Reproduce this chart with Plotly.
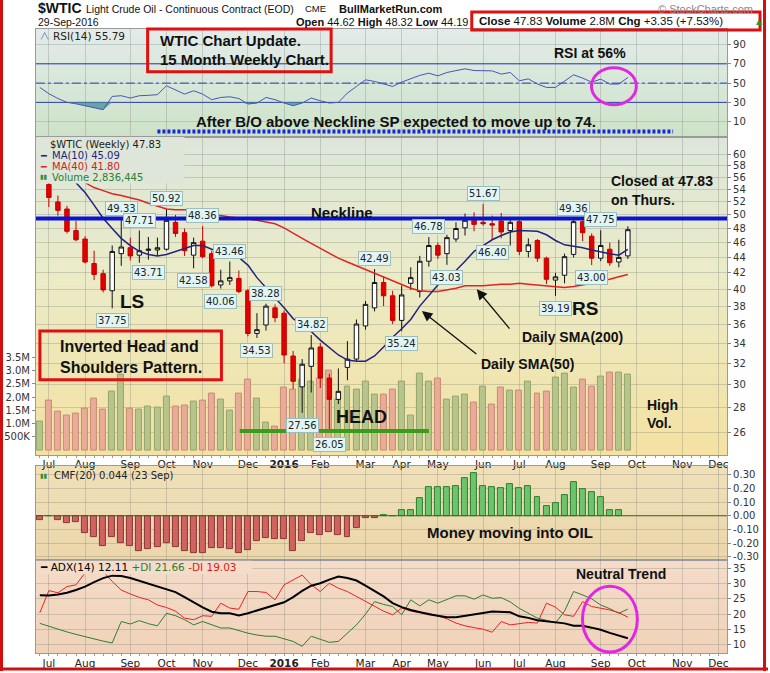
import math
import pandas as pd
import plotly.graph_objects as go

W, H = 770, 673

# ---------------- data (weekly bars, dated by Monday of the week) ----------------
FIRST_WEEK = "2015-06-29"
weeks = [d.strftime("%Y-%m-%d") for d in pd.date_range(FIRST_WEEK, periods=66, freq="7D")]

opens = [59.5, 54.8, 52.0, 50.9, 47.7, 46.5, 43.2, 41.9, 39.8, 44.5, 45.3, 44.3, 44.95, 45.0, 45.1,
         48.9, 47.4, 44.3, 46.2, 44.5, 40.5, 41.0, 41.3, 39.8, 35.0, 35.9, 37.8, 37.2, 32.7, 29.8,
         31.7, 33.6, 30.6, 28.7, 31.6, 32.4, 35.8, 37.8, 40.8, 39.2, 36.4, 40.7, 39.7, 43.5, 45.6,
         44.5, 46.5, 48.1, 49.4, 48.9, 48.7, 49.1, 47.7, 49.0, 44.8, 46.3, 43.9, 41.1, 41.7, 44.4,
         49.0, 46.9, 43.9, 45.1, 43.4, 44.2]
highs = [59.8, 55.2, 53.0, 51.4, 49.1, 46.9, 44.9, 42.4, 45.6, 49.33, 46.7, 47.71, 46.8, 46.7, 50.92,
         50.0, 48.0, 46.7, 48.36, 44.9, 42.4, 43.46, 42.3, 40.0, 37.2, 38.28, 38.2, 37.5, 33.2, 32.4,
         34.82, 34.0, 31.0, 31.5, 34.2, 36.5, 38.6, 42.49, 41.6, 39.8, 40.4, 42.7, 44.2, 46.78, 46.0,
         47.1, 48.9, 50.2, 50.4, 51.67, 49.9, 50.3, 49.6, 49.3, 46.6, 46.5, 44.1, 42.0, 44.5, 49.36,
         49.2, 47.3, 47.75, 46.0, 46.4, 48.32]
lows = [56.4, 51.2, 49.9, 47.3, 46.2, 43.2, 41.1, 39.6, 37.75, 42.9, 43.6, 43.3, 43.71, 44.2, 44.9,
        46.8, 44.2, 42.58, 43.9, 40.2, 40.06, 40.5, 39.5, 34.7, 34.53, 35.3, 36.2, 32.0, 29.6, 27.56,
        29.3, 29.7, 26.05, 28.3, 30.4, 32.2, 35.4, 37.4, 38.0, 36.0, 35.24, 39.9, 39.0, 42.8, 43.8,
        43.03, 46.1, 47.0, 47.6, 48.4, 46.40, 46.6, 45.6, 44.3, 44.0, 43.4, 40.6, 39.19, 40.7, 44.0,
        46.2, 43.00, 43.5, 42.9, 42.7, 43.8]
closes = [56.9, 52.7, 50.7, 47.6, 46.4, 43.4, 41.8, 39.9, 44.8, 45.4, 44.2, 44.9, 45.1, 45.3, 49.2,
          47.3, 44.9, 46.0, 44.1, 40.4, 41.0, 41.4, 39.7, 35.0, 35.4, 38.0, 36.7, 32.8, 30.3, 31.9,
          33.5, 30.6, 28.7, 29.4, 32.4, 36.0, 38.2, 40.8, 39.2, 36.4, 39.3, 41.4, 43.5, 45.6, 44.3,
          46.7, 48.0, 49.2, 48.6, 48.7, 48.5, 47.5, 48.9, 44.8, 45.7, 43.9, 41.2, 41.5, 44.1, 49.0,
          47.4, 43.9, 45.6, 43.3, 44.0, 47.83]
volume_m = [1.08, 1.88, 1.45, 1.32, 1.39, 1.58, 1.95, 1.54, 2.21, 2.85, 1.58, 1.54, 1.64, 1.60, 2.02,
            1.64, 1.69, 1.83, 1.88, 2.13, 1.92, 1.50, 2.13, 2.67, 1.95, 1.05, 0.90, 2.35, 2.30, 2.65,
            2.60, 2.70, 3.00, 1.90, 2.40, 2.30, 2.60, 2.10, 2.10, 2.30, 2.60, 1.30, 2.90, 2.60, 2.70,
            1.90, 2.00, 2.10, 1.80, 2.40, 1.70, 2.36, 2.26, 2.26, 2.58, 2.14, 2.20, 2.73, 2.89, 2.36,
            2.67, 2.39, 2.77, 2.92, 2.92, 2.84]
ma10 = [None, None, None, None, 55.1, 53.5, 51.5, 49.5, 48.0, 46.6, 45.6, 44.8, 44.4, 44.2, 44.4,
        44.8, 45.3, 45.6, 45.6, 45.1, 44.8, 44.5, 44.0, 43.0, 41.4, 40.2, 39.0, 37.8, 36.6, 35.9,
        35.2, 34.3, 33.5, 32.8, 32.3, 32.2, 32.2, 32.7, 33.6, 34.6, 35.5, 36.5, 38.0, 39.3, 40.5,
        41.5, 42.3, 43.5, 44.8, 45.6, 46.4, 47.0, 47.5, 47.7, 47.7, 47.6, 47.1, 46.3, 45.7, 45.5,
        45.3, 45.0, 44.7, 44.5, 44.3, 45.09]
ma40 = [None, None, None, None, None, 55.1, 54.3, 53.8, 53.3, 53.0, 52.7, 52.3, 51.8, 51.3, 50.9,
        50.8, 50.8, 50.8, 50.4, 50.1, 49.9, 49.7, 49.6, 49.4, 49.2, 48.9, 48.7, 48.1, 47.3, 46.6,
        45.9, 45.2, 44.5, 43.9, 43.4, 42.9, 42.5, 42.0, 41.5, 41.0, 40.5, 40.1, 39.8, 39.7, 39.7,
        39.9, 40.1, 40.4, 40.4, 40.4, 40.5, 40.6, 40.6, 40.7, 40.6, 40.5, 40.4, 40.3, 40.2, 40.3,
        40.5, 40.7, 41.0, 41.2, 41.5, 41.8]
rsi = [45.5, 39, 34, 30, 28.5, 26.5, 25, 22.4, 36.2, 36.9, 34.5, 36.9, 37.3, 38, 47.2,
       43, 38.6, 42, 38.6, 32.8, 35.1, 35.8, 34, 28.3, 29.3, 35.1, 32.8, 29.3, 26.5, 29.3,
       34.5, 31.7, 29.3, 30, 39.7, 46.5, 53.4, 51.7, 49, 46.5, 51, 54.5, 58, 60.3, 57.5,
       61, 63, 64.8, 63, 62.7, 62.7, 59.3, 61, 52.4, 54.4, 49, 45.5, 45.5, 52, 58.6,
       55.2, 51, 54.1, 49, 49, 55.79]
cmf = [-0.032, 0.0, -0.032, -0.051, -0.044, -0.124, -0.153, -0.219, -0.153, -0.202, -0.219, -0.256,
       -0.243, -0.226, -0.197, -0.226, -0.256, -0.275, -0.270, -0.239, -0.239, -0.246, -0.270, -0.251,
       -0.185, -0.161, -0.171, -0.173, -0.256, -0.182, -0.124, -0.139, -0.117, -0.141, -0.153, -0.090,
       -0.015, -0.020, 0.005, 0.0, 0.041, 0.041, 0.126, 0.212, 0.212, 0.212, 0.219, 0.277, 0.314,
       0.219, 0.212, 0.204, 0.233, 0.199, 0.219, 0.139, 0.073, 0.095, 0.153, 0.248, 0.192, 0.175,
       0.134, 0.041, 0.044, None]
adx = [26.2, 26.1, 26.4, 27.0, 27.9, 29.0, 30.5, 31.8, 32.6, 32.5, 31.8, 30.9, 29.9, 29.0, 28.3,
       27.2, 25.6, 23.8, 22.2, 20.8, 20.3, 20.3, 19.6, 20.3, 21.2, 22.2, 23.0, 23.9, 25.6, 27.6,
       29.3, 30.1, 31.3, 32.3, 31.8, 31.0, 29.3, 27.6, 25.8, 23.6, 22.3, 21.4, 20.6, 20.0, 19.5,
       19.0, 19.0, 19.4, 19.8, 20.4, 20.9, 20.8, 20.6, 19.3, 18.8, 18.0, 17.6, 17.4, 17.0, 16.2,
       16.2, 15.6, 14.9, 13.9, 13.0, 12.11]
pdi = [17.0, 16.0, 15.0, 14.2, 13.4, 12.6, 12.0, 11.2, 10.6, 17.6, 16.8, 17.9, 16.9, 16.2, 20.3,
       19.5, 18.2, 16.5, 17.6, 16.5, 15.5, 15.5, 14.6, 13.8, 13.2, 12.8, 12.8, 12.0, 11.1, 9.5,
       12.8, 11.8, 10.8, 11.1, 13.8, 16.5, 20.0, 24.1, 23.2, 22.5, 19.8, 24.7, 22.7, 24.7, 23.6,
       24.8, 26.0, 26.0, 24.9, 26.3, 25.2, 25.4, 24.0, 21.9, 20.3, 18.7, 18.0, 17.1, 21.0, 27.4,
       26.3, 25.0, 23.0, 21.8, 20.3, 21.66]
mdi = [20.5, 27.7, 27.0, 29.0, 29.6, 33.5, 35.5, 34.0, 30.7, 27.9, 26.6, 25.5, 24.7, 23.0, 22.2,
       21.0, 18.7, 18.2, 19.5, 19.3, 23.6, 22.0, 21.6, 27.4, 27.4, 27.1, 24.7, 29.6, 31.2, 32.8,
       29.6, 27.4, 30.1, 28.5, 27.4, 25.8, 24.2, 22.5, 21.0, 19.8, 22.0, 21.0, 20.5, 20.3, 19.3,
       18.5, 17.1, 16.2, 15.6, 15.1, 14.1, 17.6, 16.5, 17.0, 17.3, 17.1, 23.6, 22.3, 19.8, 19.3,
       24.1, 22.5, 22.0, 21.4, 20.5, 19.03]

NECKLINE = 49.45
HEAD_LEVEL = 26.1
# swing labels: (week position, "H" uses high / "L" uses low)
swing_labels = [(9, "H"), (11, "H"), (14, "H"), (18, "H"), (12, "L"), (17, "L"), (21, "H"), (20, "L"),
                (8, "L"), (25, "H"), (24, "L"), (30, "H"), (29, "L"), (32, "L"), (40, "L"), (37, "H"),
                (43, "H"), (45, "L"), (49, "H"), (50, "L"), (59, "H"), (62, "H"), (61, "L"), (57, "L")]

# ---------------- layout helpers ----------------
pos = list(range(len(weeks)))
XR = [-0.433, 75.97]
axis_weeks = pd.date_range(FIRST_WEEK, "2016-12-31", freq="7D")
tickvals, ticktext = [], []
for i, d in enumerate(axis_weeks):
    if i > 0 and d.month != axis_weeks[i - 1].month:
        tickvals.append(i)
        ticktext.append("<b>%d</b>" % d.year if d.month == 1 else d.strftime("%b"))


def py(p):
    return 1 - p / H


def px(p):
    return p / W


X0, X1 = px(36), px(729)
RSI_D = [py(137), py(29)]
MAIN_D = [py(456), py(137)]
CMF_D = [py(561.5), py(467.5)]
ADX_D = [py(655), py(562)]

GRID = "rgba(110,120,110,0.28)"
BORDER = "#9a9a9a"
TICKFONT = dict(family="DejaVu Sans", size=10, color="#333")
BOLD = "Liberation Sans, Arial, sans-serif"
HEAD = "Liberation Sans, Arial, sans-serif"

shapes, anns = [], []


def hexrgb(h):
    h = h.lstrip("#")
    return [int(h[i:i + 2], 16) for i in (0, 2, 4)]


def gradient(y0, y1, stops, n=28):
    for i in range(n):
        t = (i + 0.5) / n
        for j in range(len(stops) - 1):
            if stops[j][0] <= t <= stops[j + 1][0]:
                a, b = stops[j], stops[j + 1]
                u = (t - a[0]) / (b[0] - a[0])
                ca, cb = hexrgb(a[1]), hexrgb(b[1])
                c = [round(ca[k] + (cb[k] - ca[k]) * u) for k in range(3)]
                break
        ya = y0 + (y1 - y0) * i / n
        yb = y0 + (y1 - y0) * (i + 1) / n + 0.6
        shapes.append(dict(type="rect", xref="paper", yref="paper", x0=X0, x1=X1, y0=py(ya), y1=py(yb),
                           fillcolor="rgb(%d,%d,%d)" % tuple(c), line=dict(width=0), layer="below"))


gradient(29, 137, [(0, "#e3ebe9"), (1, "#cde3c8")])
gradient(137, 456, [(0, "#dce6da"), (0.45, "#ebebc6"), (1, "#f4e1a2")])
gradient(467.5, 561.5, [(0, "#f0e0b8"), (1, "#ebd6aa")])
gradient(562, 655, [(0, "#f4dcc8"), (1, "#f0d2b9")])


def text(t, x, y, size=14, color="#111", family=BOLD, xanchor="left", yanchor="middle", bold=True, **kw):
    anns.append(dict(text=("<b>%s</b>" % t) if bold else t, x=px(x), y=py(y), xref="paper", yref="paper",
                     showarrow=False, xanchor=xanchor, yanchor=yanchor,
                     font=dict(family=family, size=size, color=color), **kw))


def rect(x0, y0, x1, y1, color, width=3, fill=None, layer="above"):
    shapes.append(dict(type="rect", xref="paper", yref="paper", x0=px(x0), x1=px(x1), y0=py(y1), y1=py(y0),
                       line=dict(color=color, width=width), fillcolor=fill, layer=layer))


# ---------------- traces ----------------
fig = go.Figure()

# RSI panel
for lvl, dash in ((70, "solid"), (30, "solid"), (50, "dashdot")):
    fig.add_trace(go.Scatter(x=XR, y=[lvl, lvl], mode="lines", line=dict(color="#2c3fb0", width=1, dash=dash),
                             xaxis="x", yaxis="y", hoverinfo="skip"))
fig.add_trace(go.Scatter(x=pos, y=[30] * len(pos), mode="lines", line=dict(width=0), xaxis="x", yaxis="y",
                         hoverinfo="skip"))
fig.add_trace(go.Scatter(x=pos, y=[min(v, 30) for v in rsi], mode="lines", line=dict(width=0), fill="tonexty",
                         fillcolor="rgba(70,140,150,0.75)", xaxis="x", yaxis="y", hoverinfo="skip"))
fig.add_trace(go.Scatter(x=pos, y=rsi, mode="lines", line=dict(color="#4556b8", width=1), xaxis="x", yaxis="y"))
fig.add_trace(go.Scatter(x=[13.0, 70.0], y=[-0.3, -0.3], mode="lines",
                         line=dict(color="#1626d8", width=4, dash="3px,2px"), xaxis="x", yaxis="y"))

# volume (base axis of main panel)
vol_up = [i == 0 or closes[i] >= closes[i - 1] for i in pos]
fig.add_trace(go.Bar(x=pos, y=[v * 1e6 for v in volume_m], width=0.66,
                     marker=dict(color=["#b7c58c" if u else "#e8ac98" for u in vol_up],
                                 line=dict(color=["#94a46c" if u else "#c98a76" for u in vol_up], width=1)),
                     xaxis="x2", yaxis="y2"))

# price (overlaying log axis)
fig.add_trace(go.Candlestick(x=pos, open=opens, high=highs, low=lows, close=closes, whiskerwidth=0,
                             increasing=dict(line=dict(color="#111111", width=1), fillcolor="#ffffff"),
                             decreasing=dict(line=dict(color="#c40000", width=1), fillcolor="#e20000"),
                             xaxis="x2", yaxis="y3"))
fig.add_trace(go.Scatter(x=pos, y=ma40, mode="lines", line=dict(color="#e02424", width=1.5), xaxis="x2", yaxis="y3"))
fig.add_trace(go.Scatter(x=pos, y=ma10, mode="lines", line=dict(color="#23237e", width=1.5), xaxis="x2", yaxis="y3"))
fig.add_trace(go.Scatter(x=XR, y=[NECKLINE, NECKLINE], mode="lines", line=dict(color="#0a14d0", width=4),
                         xaxis="x2", yaxis="y3"))
fig.add_trace(go.Scatter(x=[22.1, 43.0], y=[HEAD_LEVEL, HEAD_LEVEL], mode="lines",
                         line=dict(color="#3c9a1c", width=4), xaxis="x2", yaxis="y3"))

# CMF
fig.add_trace(go.Bar(x=pos, y=cmf, width=0.66,
                     marker=dict(color=["#6cc46c" if (v or 0) >= 0 else "#d06262" for v in cmf],
                                 line=dict(color=["#2f7d2f" if (v or 0) >= 0 else "#8a3434" for v in cmf], width=1)),
                     xaxis="x3", yaxis="y4"))
fig.add_trace(go.Scatter(x=XR, y=[0, 0], mode="lines", line=dict(color="#2f6b2f", width=1.2), xaxis="x3", yaxis="y4"))

# ADX
fig.add_trace(go.Scatter(x=pos, y=pdi, mode="lines", line=dict(color="#2e7d32", width=1), xaxis="x4", yaxis="y5"))
fig.add_trace(go.Scatter(x=pos, y=mdi, mode="lines", line=dict(color="#f02020", width=1), xaxis="x4", yaxis="y5"))
fig.add_trace(go.Scatter(x=pos, y=adx, mode="lines", line=dict(color="#000000", width=2), xaxis="x4", yaxis="y5"))


# ---------------- axes ----------------
def xax(domain_anchor, labels):
    d = dict(domain=[X0, X1], range=XR, anchor=domain_anchor, tickvals=tickvals, ticktext=ticktext,
             showticklabels=labels, showgrid=True, gridcolor=GRID, gridwidth=1, zeroline=False,
             showline=True, linecolor=BORDER, mirror=True, ticks="",
             tickfont=dict(family="DejaVu Sans", size=10.5, color="#222"),
             rangeslider=dict(visible=False), fixedrange=True)
    if labels:
        d["minor"] = dict(tickvals=list(range(0, 77)), ticks="outside", ticklen=2, tickcolor="#999", showgrid=False)
    return d


def yax(domain, rng, vals, txt, **kw):
    d = dict(domain=domain, range=rng, tickvals=vals, ticktext=txt, side="right", showgrid=True, gridcolor=GRID,
             zeroline=False, showline=True, linecolor=BORDER, mirror=True, ticks="outside", ticklen=3,
             tickcolor="#888", tickfont=TICKFONT, fixedrange=True)
    d.update(kw)
    return d


price_ticks = list(range(26, 61, 2))
cmf_ticks = [-0.3, -0.2, -0.1, 0.0, 0.1, 0.2, 0.3]
vol_ticks = [0.5e6, 1e6, 1.5e6, 2e6, 2.5e6, 3e6, 3.5e6]

fig.update_layout(
    width=W, height=H, margin=dict(l=0, r=0, t=0, b=0),
    paper_bgcolor="white", plot_bgcolor="rgba(0,0,0,0)", showlegend=False, bargap=0,
    xaxis=xax("y", False),
    xaxis2=xax("y2", True),
    xaxis3=xax("y4", False),
    xaxis4=xax("y5", True),
    yaxis=yax(RSI_D, [-5.5, 106.2], [10, 30, 50, 70, 90], ["10", "30", "50", "70", "90"], anchor="x"),
    yaxis2=dict(domain=MAIN_D, range=[-0.17e6, 11.82e6], anchor="x2", side="left", tickvals=vol_ticks,
                ticktext=["500K", "1.0M", "1.5M", "2.0M", "2.5M", "3.0M", "3.5M"], showgrid=False,
                zeroline=False, showline=True, linecolor=BORDER, mirror=True, ticks="outside", ticklen=3,
                tickcolor="#888", tickfont=TICKFONT, fixedrange=True),
    yaxis3=yax(MAIN_D, [math.log10(24.3), math.log10(63.3)], price_ticks, [str(v) for v in price_ticks],
               type="log", overlaying="y2", anchor="x2"),
    yaxis4=yax(CMF_D, [-0.3226, 0.3635], cmf_ticks, ["%.2f" % v for v in cmf_ticks], anchor="x3"),
    yaxis5=yax(ADX_D, [7.3, 37.6], [10, 15, 20, 25, 30, 35], ["10", "15", "20", "25", "30", "35"], anchor="x4"),
)

# ---------------- legend boxes inside panels ----------------
rect(36.5, 137.5, 185, 184, "rgba(0,0,0,0)", width=0, fill="#dde6d9")
rect(36.5, 562.5, 253, 576, "rgba(0,0,0,0)", width=0, fill="#f4dcc8")

text("╱╲", 38.5, 36.5, size=6, family="DejaVu Sans", color="#3040c0", bold=False)
text("RSI(14) 55.79", 51, 36.5, size=10.5, family="DejaVu Sans", color="#222", bold=False)
text("$WTIC (Weekly) 47.83", 48, 144.5, size=10, family="DejaVu Sans", color="#222", bold=False)
text("━", 38, 155.5, size=9.5, family="DejaVu Sans", color="#23237e", bold=False)
text("MA(10) 45.09", 50, 155.5, size=10, family="DejaVu Sans", color="#23237e", bold=False)
text("━", 38, 166.5, size=9.5, family="DejaVu Sans", color="#e02424", bold=False)
text("MA(40) 41.80", 50, 166.5, size=10, family="DejaVu Sans", color="#d02020", bold=False)
text("▮▮", 38, 177.8, size=6.5, family="DejaVu Sans", color="#3a8a3a", bold=False)
text("Volume 2,836,445", 50, 177.8, size=10, family="DejaVu Sans", color="#2f7d2f", bold=False)
text("▮▮", 38.5, 477, size=6.5, family="DejaVu Sans", color="#3a8a3a", bold=False)
text("CMF(20) 0.044 (23 Sep)", 52, 477, size=10, family="DejaVu Sans", color="#222", bold=False)
anns.append(dict(text="<span style='color:#000'>━ ADX(14) 12.11</span> <span style='color:#2e7d32'>+DI 21.66</span> "
                      "<span style='color:#e01818'>-DI 19.03</span>",
                 x=px(38), y=py(569), xref="paper", yref="paper", showarrow=False, xanchor="left", yanchor="middle",
                 font=dict(family="DejaVu Sans", size=10.5)))

# ---------------- swing price labels ----------------
for k, kind in swing_labels:
    v = highs[k] if kind == "H" else lows[k]
    anns.append(dict(text="%.2f" % v, x=k, y=math.log10(v), xref="x2", yref="y3", showarrow=False,
                     xanchor="center", yanchor="bottom" if kind == "H" else "top",
                     yshift=3 if kind == "H" else -5, bgcolor="#e2f5f5", bordercolor="#9dbdbd", borderwidth=1,
                     borderpad=1, font=dict(family="DejaVu Sans", size=10, color="#222")))

# ---------------- header ----------------
text("$WTIC", 36, 8, size=14, family=HEAD)
text("Light Crude Oil - Continuous Contract (EOD)", 84, 9, size=10.5, family=HEAD, bold=False)
text("CME", 304, 9, size=9.5, family=HEAD, bold=False)
text("BullMarketRun.com", 392, 9, size=11, xanchor="center")
text("© StockCharts.com", 757, 9, size=11, family=HEAD, color="#888", xanchor="right", bold=False)
text("29-Sep-2016", 36, 22, size=10.5, family=HEAD, bold=False)
text("<b>Open</b> 44.62 <b>High</b> 48.32 <b>Low</b> 44.19", 471, 22, size=11, family=HEAD, xanchor="right",
     bold=False)
text("<b>Close</b> 47.83 <b>Volume</b> 2.8M <b>Chg</b> +3.35 (+7.53%)", 478, 21.5, size=11.5, family=HEAD,
     bold=False)
text("▲", 756, 21.5, size=8, color="#2a9a2a", family="DejaVu Sans", bold=False)
rect(473, 12, 762, 30, "#e01010", width=3)

# ---------------- chart notes ----------------
rect(148, 29, 332, 72, "#e01010", width=3)
text("WTIC Chart Update.", 158, 41, size=15)
text("15 Month Weekly Chart.", 158, 60, size=15)
text("RSI at 56%", 592, 53, size=14, xanchor="center")
text("After B/O above Neckline SP expected to move up to 74.", 397, 122, size=15, xanchor="center")
text("Neckline", 343, 213, size=15, xanchor="center")
text("LS", 132, 302, size=19, xanchor="center")
rect(40, 332, 222, 381, "#e01010", width=3)
text("Inverted Head and", 58, 347.5, size=16)
text("Shoulders Pattern.", 58, 369, size=16)
text("HEAD", 362, 418, size=18, xanchor="center")
text("RS", 587, 309, size=19, xanchor="center")
text("Daily SMA(200)", 521, 338, size=14)
text("Daily SMA(50)", 578, 365, size=14, xanchor="right")
text("Closed at 47.83", 611, 182, size=14)
text("on Thurs.", 611, 201, size=14)
text("High", 647, 406, size=14)
text("Vol.", 647, 424, size=14)
text("Money moving into OIL", 511, 534, size=15, xanchor="center")
text("Neutral Trend", 623, 576, size=14, xanchor="center")

# arrows
for hx, hy, tx, ty in ((478, 290, 512, 331), (423, 312, 479, 356)):
    anns.append(dict(text="", x=px(hx), y=py(hy), xref="paper", yref="paper", ax=tx - hx, ay=ty - hy,
                     axref="pixel", ayref="pixel", showarrow=True, arrowhead=2, arrowsize=1.6, arrowwidth=1.3,
                     arrowcolor="#111"))

# magenta ellipses
for x0, y0, x1, y1 in ((593, 68, 638, 105), (584, 588, 639, 654)):
    shapes.append(dict(type="circle", xref="paper", yref="paper", x0=px(x0), x1=px(x1), y0=py(y1), y1=py(y0),
                       line=dict(color="#e028e0", width=3), layer="above"))

# red frame
for x0, y0, x1, y1 in ((1.5, 0, 1.5, 673), (766.5, 0, 766.5, 673), (0, 671, 770, 671)):
    shapes.append(dict(type="line", xref="paper", yref="paper", x0=px(x0), x1=px(x1), y0=py(y0), y1=py(y1),
                       line=dict(color="#d01010", width=3), layer="above"))

fig.update_layout(shapes=shapes, annotations=anns)
fig.write_html("out.html")
